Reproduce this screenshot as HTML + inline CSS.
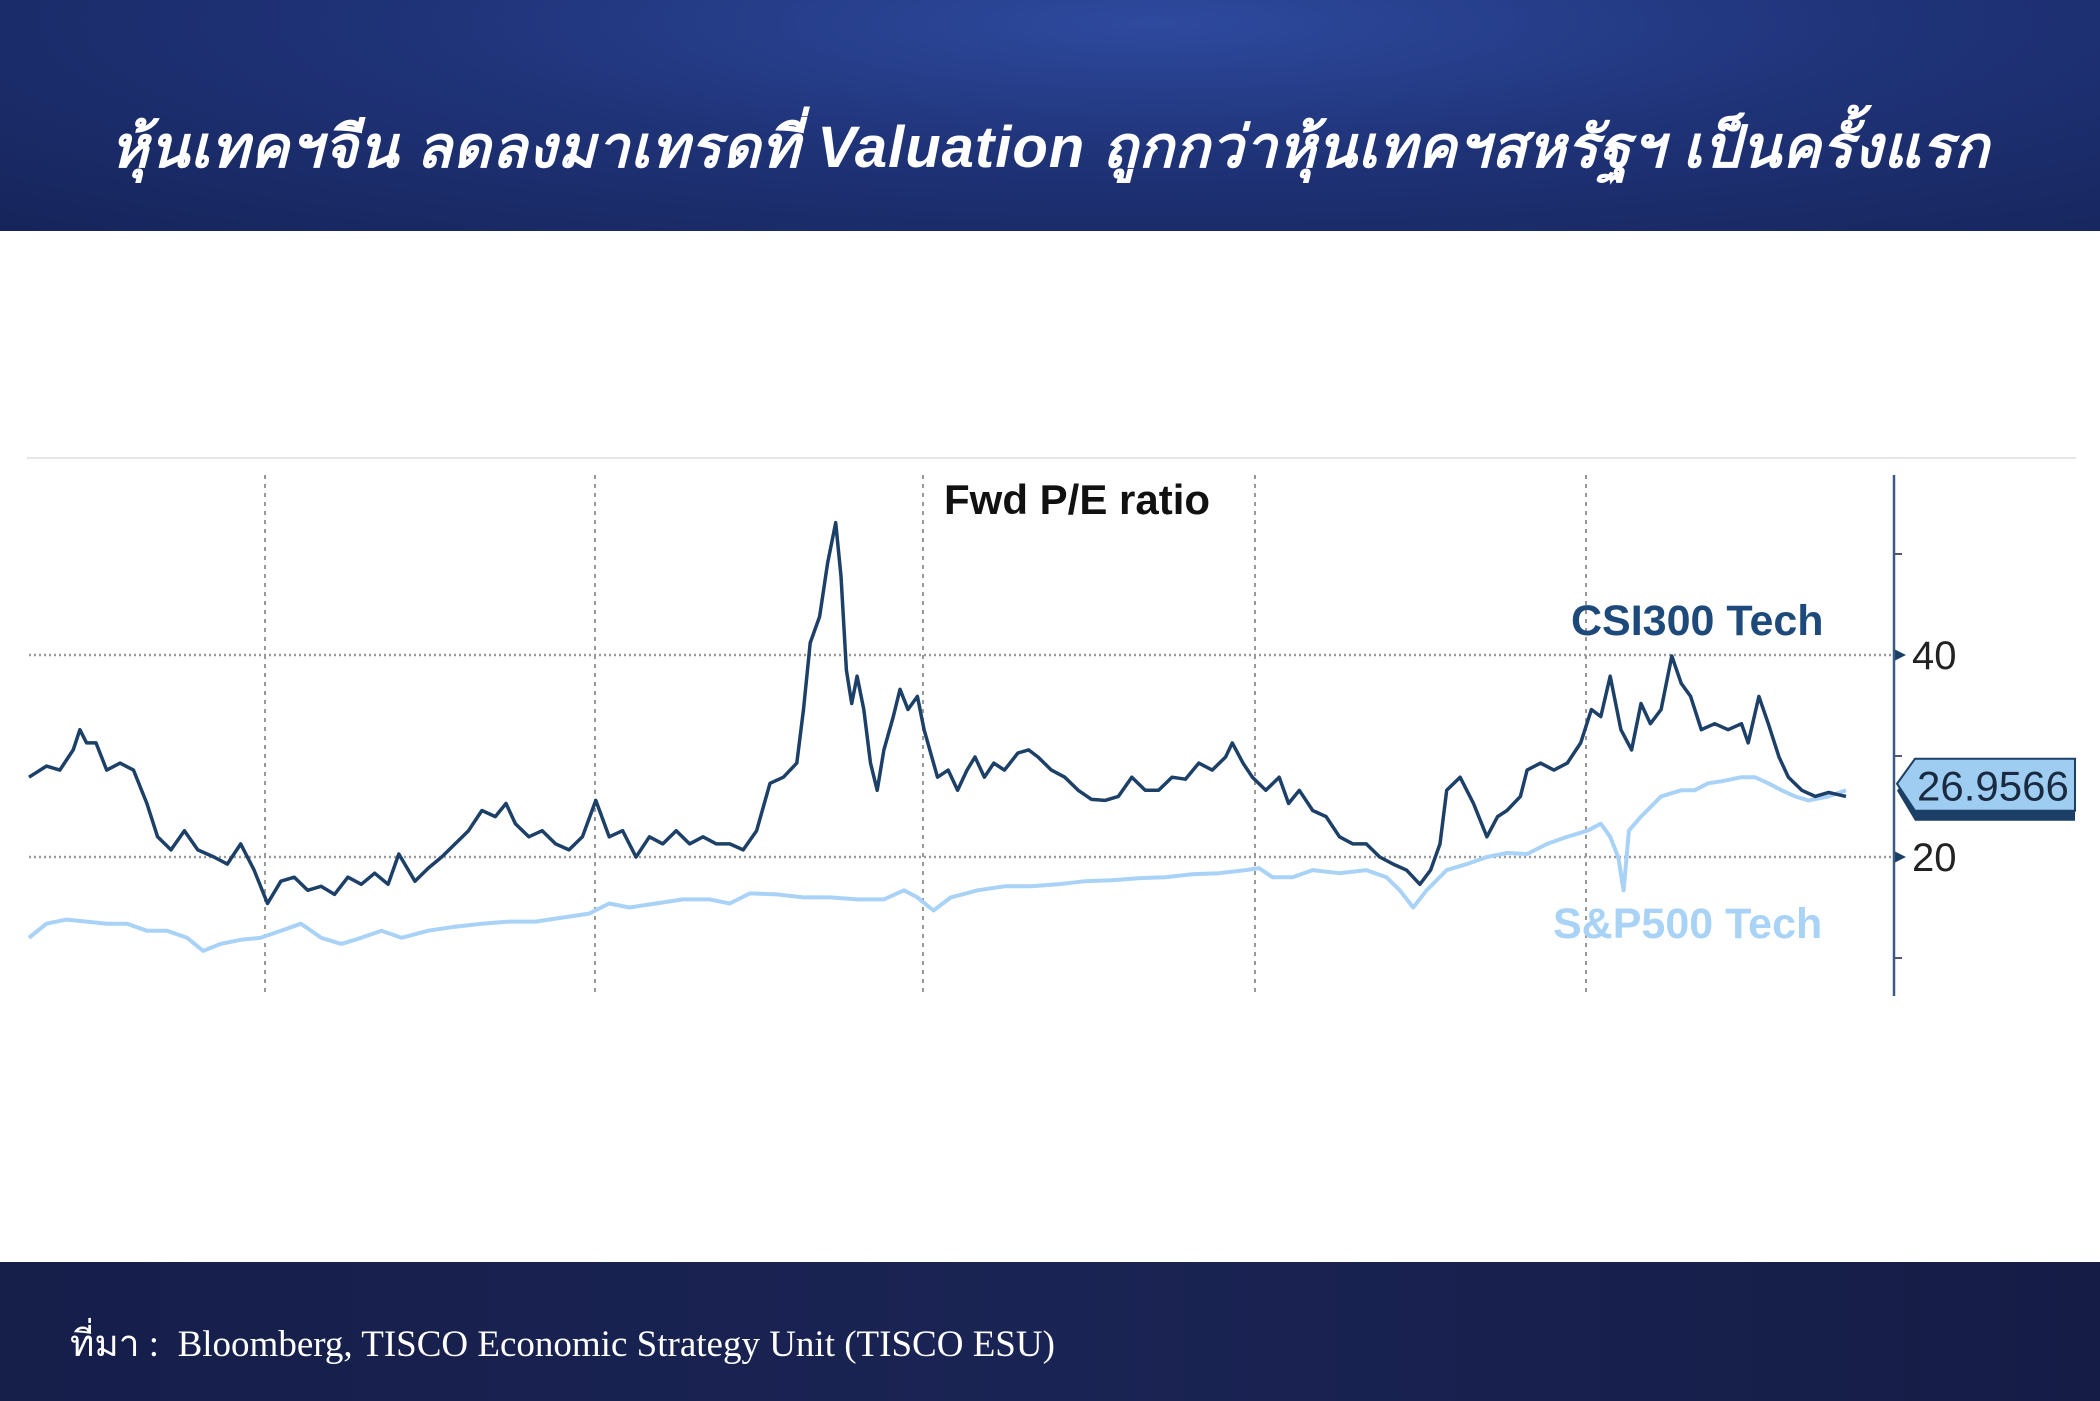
<!DOCTYPE html>
<html><head><meta charset="utf-8">
<style>
html,body{margin:0;padding:0;width:2100px;height:1401px;overflow:hidden;background:#fff;}
#header{position:absolute;left:0;top:0;width:2100px;height:231px;background:radial-gradient(ellipse at 55% 10%,#2e4a9e 0%,#1f3378 45%,#16245a 100%);}
#title{position:absolute;left:0;top:100px;width:2100px;text-align:center;color:#fff;font:italic bold 58px "Liberation Sans","Noto Sans CJK SC",sans-serif;letter-spacing:1px;}
#footer{position:absolute;left:0;top:1262px;width:2100px;height:139px;background:linear-gradient(90deg,#161e4a,#1a2454 50%,#151c46);}
#source{position:absolute;left:70px;top:1314px;color:#fff;font:37px "Liberation Serif",serif;}
svg{position:absolute;left:0;top:0;}
</style></head><body>
<div id="header">
<div id="title">หุ้นเทคฯจีน ลดลงมาเทรดที่ Valuation ถูกกว่าหุ้นเทคฯสหรัฐฯ เป็นครั้งแรก</div>
</div>
<svg id="chart" width="2100" height="1401"></svg>
<div id="footer">
</div>
<div id="source">ที่มา :&nbsp; Bloomberg, TISCO Economic Strategy Unit (TISCO ESU)</div>
<script>
const csiWeeks=[0,13,23,33,38,43,50,58,68,78,88,96,106,116,126,138,148,158,168,178,188,198,208,218,228,238,248,258,268,276,288,298,308,318,328,338,348,356,363,373,383,393,403,413,423,433,443,453,463,473,483,493,503,513,523,533,543,553,563,573,578,583,590,596,602,606,610,614,618,623,628,633,638,645,650,656,663,668,678,686,693,700,706,713,720,728,738,746,753,763,773,783,793,803,813,823,833,843,853,863,873,883,893,898,906,913,923,933,940,948,958,968,978,988,998,1008,1018,1028,1038,1046,1053,1058,1068,1078,1088,1096,1103,1113,1118,1128,1138,1148,1158,1166,1173,1180,1188,1196,1203,1210,1218,1226,1233,1240,1248,1258,1268,1278,1283,1291,1298,1306,1313,1323,1333,1343,1356];
const csiValues=[27.9,29.0,28.6,30.6,32.6,31.3,31.3,28.6,29.3,28.6,25.3,22.0,20.7,22.6,20.7,20.0,19.3,21.3,18.7,15.4,17.6,18.0,16.7,17.1,16.3,18.0,17.3,18.4,17.3,20.3,17.6,18.9,20.0,21.3,22.6,24.6,24.0,25.3,23.3,22.0,22.6,21.3,20.7,22.0,25.6,22.0,22.6,20.0,22.0,21.3,22.6,21.3,22.0,21.3,21.3,20.7,22.6,27.3,27.9,29.3,34.6,41.2,43.8,49.1,53.1,47.8,38.5,35.2,37.9,34.6,29.3,26.6,30.6,33.9,36.6,34.6,35.9,32.6,27.9,28.6,26.6,28.6,29.9,27.9,29.3,28.6,30.3,30.6,29.9,28.6,27.9,26.6,25.7,25.6,26.0,27.9,26.6,26.6,27.9,27.7,29.3,28.6,29.9,31.3,29.3,27.9,26.6,27.9,25.3,26.6,24.6,24.0,22.0,21.3,21.3,20.0,19.3,18.7,17.3,18.7,21.3,26.6,27.9,25.3,22.0,24.0,24.6,26.0,28.6,29.3,28.6,29.3,31.3,34.6,33.9,37.9,32.6,30.6,35.2,33.2,34.6,39.9,37.2,35.9,32.6,33.2,32.6,33.2,31.3,35.9,33.2,29.9,27.9,26.6,26.0,26.4,26.0];
const spxWeeks=[0,13,28,43,58,73,88,103,118,130,143,158,173,188,203,218,233,248,263,278,298,318,338,358,378,398,418,433,448,468,488,508,523,538,558,578,598,618,638,653,663,675,688,708,728,748,768,788,808,828,848,868,888,908,918,928,943,958,978,998,1013,1023,1033,1043,1058,1073,1088,1103,1118,1133,1148,1163,1173,1180,1186,1190,1194,1203,1218,1233,1243,1253,1263,1278,1288,1298,1308,1318,1328,1343,1356];
const spxValues=[12.0,13.4,13.8,13.6,13.4,13.4,12.7,12.7,12.0,10.7,11.4,11.8,12.0,12.7,13.4,12.0,11.4,12.0,12.7,12.0,12.7,13.1,13.4,13.6,13.6,14.0,14.4,15.4,15.0,15.4,15.8,15.8,15.4,16.4,16.3,16.0,16.0,15.8,15.8,16.7,16.0,14.7,16.0,16.7,17.1,17.1,17.3,17.6,17.7,17.9,18.0,18.3,18.4,18.7,18.9,18.0,18.0,18.7,18.4,18.7,18.0,16.7,15.0,16.7,18.7,19.3,20.0,20.4,20.3,21.3,22.0,22.6,23.3,22.0,20.0,16.7,22.6,24.0,26.0,26.6,26.6,27.3,27.5,27.9,27.9,27.3,26.6,26.0,25.6,26.0,26.6];
const yTicks=[20,40];
const yMinorTicks=[10,30,50];
const lastValueLabel="26.9566";
const lastValue=26.9566;

const NS="http://www.w3.org/2000/svg";
const svg=document.getElementById('chart');
const X=t=>29+t*(1846-29)/1356;
const Y=v=>655+(40-v)*10.1;
function mk(tag,attrs,parent){const e=document.createElementNS(NS,tag);for(const k in attrs)e.setAttribute(k,attrs[k]);(parent||svg).appendChild(e);return e;}

const topRule=mk('line',{x1:27,x2:2076,y1:458,y2:458,stroke:'#e6e6e6','stroke-width':2});


[265,595,923,1255,1586].forEach(x=>{
  const g=mk('line',{x1:x,x2:x,y1:475,y2:996,stroke:'#999','stroke-width':2,'stroke-dasharray':'4 5'});
  
  
});
yTicks.forEach(v=>{
  const g=mk('line',{x1:29,x2:1894,y1:Y(v),y2:Y(v),stroke:'#999','stroke-width':2.5,'stroke-dasharray':'2 3'});
  
  
  const m=mk('polygon',{points:`1894,${Y(v)-6} 1906,${Y(v)} 1894,${Y(v)+6}`,fill:'#1b3f66'});
  
  
  const t=mk('text',{x:1912,y:Y(v)+14,'font-family':'Liberation Sans, sans-serif','font-size':40,fill:'#222'});
  t.textContent=v;
  
  
});
yMinorTicks.forEach(v=>{
  const m=mk('line',{x1:1894,x2:1902,y1:Y(v),y2:Y(v),stroke:'#557',"stroke-width":2});
  
  
});
const axis=mk('line',{x1:1894,x2:1894,y1:475,y2:996,stroke:'#3a5a85','stroke-width':2.5});



function path(ws,vs){return ws.map((w,i)=>(i?'L':'M')+X(w).toFixed(1)+','+Y(vs[i]).toFixed(1)).join(' ');}
const sp=mk('path',{d:path(spxWeeks,spxValues),fill:'none',stroke:'#a9d2f7','stroke-width':4,'stroke-linejoin':'round'});


const cs=mk('path',{d:path(csiWeeks,csiValues),fill:'none',stroke:'#1d4068','stroke-width':3.5,'stroke-linejoin':'round'});



const ly=Y(lastValue);
const sh=mk('polygon',{points:`1897,${ly+4} 1915,${ly-22} 2075,${ly-22} 2075,${ly+34} 1915,${ly+34}`,fill:'#1b3f66'});


const bx=mk('polygon',{points:`1897,${ly-3} 1915,${ly-28} 2075,${ly-28} 2075,${ly+24} 1915,${ly+24}`,fill:'#9fcdf2',stroke:'#1b3f66','stroke-width':2});


const bt=mk('text',{x:1917,y:ly+14,'font-family':'Liberation Sans, sans-serif','font-size':42,fill:'#1a2a40'});
bt.textContent=lastValueLabel;



const ct=mk('text',{x:944,y:514,'font-family':'Liberation Sans, sans-serif','font-size':42,'font-weight':'bold',fill:'#111'});
ct.textContent='Fwd P/E ratio';


const l1=mk('text',{x:1571,y:635,'font-family':'Liberation Sans, sans-serif','font-size':43,'font-weight':'bold',fill:'#1d4a7a'});
l1.textContent='CSI300 Tech';


const l2=mk('text',{x:1553,y:938,'font-family':'Liberation Sans, sans-serif','font-size':43,'font-weight':'bold',fill:'#a9d2f7'});
l2.textContent='S&P500 Tech';


</script>
</body></html>
